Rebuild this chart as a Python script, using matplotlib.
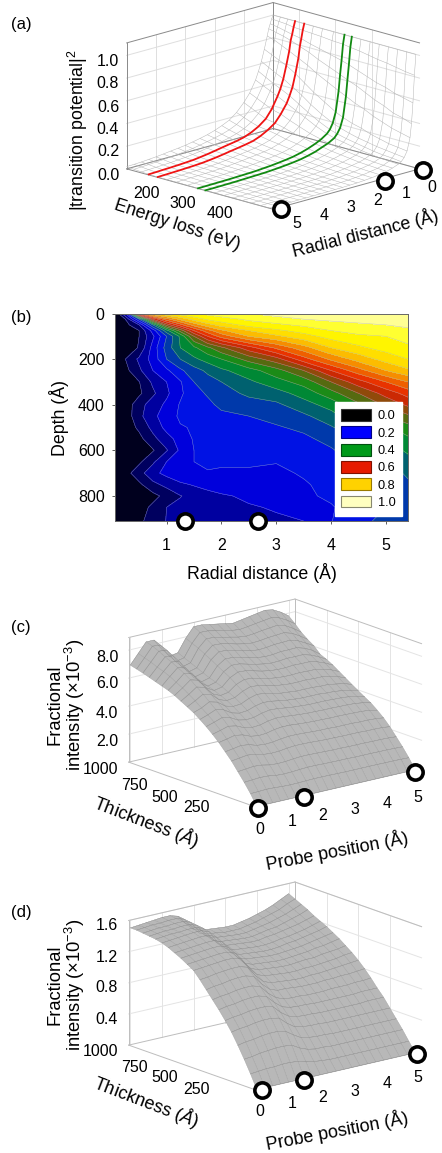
import numpy as np
import matplotlib
matplotlib.use('Agg')
import matplotlib.pyplot as plt
from matplotlib.colors import LinearSegmentedColormap
from matplotlib.patches import Patch

plt.rcParams['font.family'] = 'Liberation Sans'
plt.rcParams['mathtext.fontset'] = 'custom'
plt.rcParams['mathtext.rm'] = 'Liberation Sans'
plt.rcParams['mathtext.it'] = 'Liberation Sans:italic'
plt.rcParams['mathtext.bf'] = 'Liberation Sans:bold'

W, H = 442, 1153

## PANEL A: transition potential, one row per energy, one column per radius
a_radius = [0, .05, .1, .15, .2, .3, .4, .5, .6, .8, 1, 1.25, 1.5, 1.75, 2, 2.25, 2.5, 2.75, 3, 3.25, 3.5, 3.75, 4, 4.25, 4.5, 4.75, 5]
a_energy = [130, 150, 170, 190, 215, 240, 265, 295, 325, 345, 370, 395, 420, 445, 470, 495, 520]
a_values = [
    [1, .97, .93, .89, .83, .72, .62, .54, .47, .37, .30, .23, .18, .15, .125, .105, .09, .077, .065, .057, .05, .042, .035, .03, .025, .022, .02],
    [1, .965, .92, .875, .81, .69, .585, .505, .44, .34, .27, .205, .16, .13, .11, .094, .08, .067, .055, .047, .04, .034, .028, .024, .02, .017, .014],
    [1, .96, .905, .86, .78, .66, .55, .47, .41, .31, .24, .18, .14, .115, .095, .082, .07, .058, .047, .038, .03, .025, .02, .017, .014, .011, .009],
    [1, .95, .89, .84, .75, .63, .52, .44, .38, .28, .21, .16, .125, .1, .085, .074, .063, .051, .04, .031, .023, .019, .015, .012, .01, .007, .005],
    [1, .945, .875, .81, .71, .58, .47, .40, .34, .26, .195, .15, .115, .09, .077, .066, .056, .045, .035, .027, .02, .016, .013, .01, .008, .006, .004],
    [1, .94, .85, .78, .67, .52, .42, .35, .30, .225, .175, .135, .10, .08, .067, .057, .048, .039, .03, .023, .017, .014, .011, .009, .007, .005, .004],
    [1, .935, .83, .74, .62, .46, .36, .30, .26, .195, .15, .115, .09, .07, .057, .048, .04, .032, .025, .019, .014, .011, .009, .007, .006, .004, .003],
    [1, .925, .805, .70, .57, .40, .30, .245, .21, .16, .13, .10, .075, .06, .048, .04, .032, .026, .02, .016, .012, .009, .007, .006, .005, .003, .002],
    [1, .92, .78, .66, .52, .34, .25, .20, .17, .135, .11, .085, .065, .05, .04, .032, .025, .02, .015, .012, .01, .008, .006, .005, .004, .003, .002],
    [1, .91, .76, .63, .49, .31, .225, .18, .15, .12, .10, .075, .058, .044, .035, .028, .022, .017, .013, .011, .009, .007, .005, .004, .003, .002, .002],
    [1, .90, .73, .60, .45, .28, .20, .16, .135, .105, .085, .065, .05, .038, .03, .024, .018, .014, .011, .009, .008, .006, .005, .004, .003, .002, .002],
    [1, .885, .70, .56, .42, .26, .18, .145, .12, .09, .075, .058, .043, .033, .025, .02, .015, .012, .009, .007, .006, .005, .004, .003, .002, .002, .001],
    [1, .87, .67, .52, .38, .23, .165, .13, .105, .08, .065, .05, .037, .028, .02, .016, .012, .01, .008, .006, .005, .004, .003, .002, .002, .001, .001],
    [1, .86, .65, .49, .35, .21, .15, .115, .095, .07, .055, .043, .032, .024, .017, .013, .01, .008, .007, .005, .004, .003, .003, .002, .002, .001, .001],
    [1, .845, .62, .45, .32, .19, .14, .105, .085, .063, .05, .037, .027, .02, .014, .011, .008, .007, .006, .005, .004, .003, .002, .002, .001, .001, .001],
    [1, .83, .60, .43, .30, .18, .13, .10, .08, .058, .045, .033, .023, .017, .012, .009, .007, .006, .005, .004, .003, .002, .002, .002, .001, .001, .001],
    [1, .82, .58, .40, .28, .17, .12, .09, .075, .055, .04, .03, .02, .015, .01, .008, .006, .005, .004, .003, .003, .002, .002, .001, .001, .001, .001],
]
a_red_energies = [190, 215]
a_green_energies = [325, 345]
a_circles_r = [-.11, 1.18, 4.72]
a_xticks = [0, 1, 2, 3, 4, 5]
a_yticks = [200, 300, 400]
a_zticks = [0.0, 0.2, 0.4, 0.6, 0.8, 1.0]

## PANEL B: contour map
b_radius = [.06, .25, .5, .75, 1, 1.25, 1.5, 1.75, 2, 2.5, 3, 3.5, 4, 4.5, 5, 5.4]
b_depth = [0, 25, 50, 75, 100, 150, 200, 250, 300, 350, 400, 450, 500, 550, 600, 650, 700, 750, 800, 850, 910]
b_values = [
    [0, .15, .65, .80, .85, .88, .90, .915, .93, .95, .97, .98, .99, .995, 1, 1],
    [0, .05, .25, .55, .68, .76, .82, .86, .88, .91, .93, .95, .96, .97, .975, .98],
    [0, .03, .10, .30, .52, .63, .72, .78, .82, .87, .89, .91, .93, .94, .95, .96],
    [0, .02, .05, .17, .33, .47, .60, .68, .74, .80, .84, .87, .90, .92, .93, .94],
    [0, .015, .05, .14, .25, .36, .50, .60, .67, .75, .79, .83, .87, .89, .90, .92],
    [0, .012, .055, .17, .27, .35, .39, .44, .49, .58, .66, .73, .80, .84, .87, .89],
    [0, .05, .11, .17, .25, .30, .34, .37, .40, .47, .53, .63, .71, .77, .82, .85],
    [0, .035, .09, .15, .19, .24, .28, .31, .34, .38, .43, .50, .60, .68, .75, .79],
    [0, .015, .048, .11, .15, .195, .25, .28, .30, .34, .38, .42, .50, .58, .65, .70],
    [0, .01, .04, .09, .14, .19, .235, .255, .28, .31, .33, .37, .43, .50, .57, .62],
    [0, .02, .08, .125, .16, .205, .225, .24, .26, .28, .29, .33, .37, .44, .51, .56],
    [0, .02, .085, .14, .17, .21, .22, .23, .24, .25, .265, .29, .33, .39, .45, .49],
    [0, .02, .06, .115, .165, .195, .205, .21, .22, .235, .245, .26, .295, .34, .39, .43],
    [0, .01, .035, .085, .13, .17, .205, .21, .215, .22, .225, .24, .265, .30, .35, .39],
    [0, .005, .02, .045, .095, .16, .20, .205, .21, .215, .215, .22, .245, .28, .32, .36],
    [0, .01, .04, .09, .15, .18, .20, .205, .205, .205, .202, .215, .23, .26, .295, .33],
    [0, .03, .08, .135, .165, .19, .20, .198, .195, .195, .19, .205, .22, .24, .27, .31],
    [0, .01, .04, .085, .115, .14, .155, .17, .18, .185, .18, .195, .215, .23, .255, .29],
    [0, .005, .015, .035, .065, .098, .115, .13, .143, .16, .17, .19, .21, .22, .25, .27],
    [0, .01, .03, .06, .10, .11, .12, .125, .13, .145, .155, .17, .195, .23, .25, .265],
    [0, .01, .04, .07, .102, .108, .112, .118, .122, .132, .142, .15, .198, .24, .26, .27],
]
b_circles_r = [1.33, 2.67]
b_xticks = [1, 2, 3, 4, 5]
b_yticks = [0, 200, 400, 600, 800]
b_legend_values = ['0.0', '0.2', '0.4', '0.6', '0.8', '1.0']
b_legend_colors = ['#000000', '#0000ff', '#009a1a', '#e61a00', '#ffd200', '#ffffc0']
b_legend_edges = ['#333333', '#000088', '#005010', '#801000', '#997a00', '#888870']

## PANELS C AND D: one row per thickness, one column per probe position
surf_position = [0, .25, .5, .75, 1, 1.25, 1.5, 1.75, 2, 2.25, 2.5, 2.75, 3, 3.25, 3.5, 3.75, 4, 4.25, 4.5, 4.75, 5]
surf_thickness = [0, 50, 100, 150, 200, 250, 300, 350, 400, 450, 500, 550, 600, 650, 700, 750, 800, 850, 900, 950, 1000]
c_values = [
    [0] * 21,
    [.75, .77, .8, .78, .74, .72, .73, .75, .77, .77, .76, .75, .74, .74, .74, .74, .74, .73, .73, .72, .7],
    [1.4, 1.44, 1.48, 1.46, 1.37, 1.34, 1.36, 1.4, 1.43, 1.43, 1.41, 1.4, 1.39, 1.39, 1.37, 1.37, 1.37, 1.36, 1.36, 1.34, 1.32],
    [2.0, 2.06, 2.12, 2.08, 1.96, 1.92, 1.94, 2.0, 2.04, 2.04, 2.02, 2.0, 1.98, 1.98, 1.96, 1.96, 1.96, 1.94, 1.94, 1.92, 1.88],
    [2.6, 2.68, 2.76, 2.7, 2.55, 2.5, 2.52, 2.6, 2.65, 2.65, 2.63, 2.6, 2.57, 2.57, 2.55, 2.55, 2.55, 2.52, 2.52, 2.5, 2.44],
    [3.1, 3.19, 3.29, 3.22, 3.04, 2.98, 3.01, 3.1, 3.16, 3.16, 3.13, 3.1, 3.07, 3.07, 3.04, 3.04, 3.04, 3.01, 3.01, 2.98, 2.91],
    [3.6, 3.72, 3.85, 3.76, 3.53, 3.44, 3.48, 3.61, 3.68, 3.67, 3.62, 3.58, 3.55, 3.54, 3.52, 3.52, 3.51, 3.49, 3.47, 3.42, 3.3],
    [4.03, 4.18, 4.35, 4.24, 3.98, 3.87, 3.91, 4.06, 4.14, 4.12, 4.06, 4.01, 3.97, 3.96, 3.94, 3.94, 3.92, 3.91, 3.88, 3.8, 3.66],
    [4.42, 4.6, 4.8, 4.68, 4.37, 4.25, 4.29, 4.46, 4.56, 4.53, 4.45, 4.38, 4.34, 4.3, 4.3, 4.3, 4.27, 4.25, 4.2, 4.1, 3.93],
    [4.77, 4.97, 5.21, 5.07, 4.72, 4.57, 4.62, 4.82, 4.94, 4.9, 4.8, 4.71, 4.66, 4.62, 4.62, 4.62, 4.57, 4.55, 4.48, 4.38, 4.21],
    [5.1, 5.3, 5.61, 5.46, 5.05, 4.89, 4.94, 5.2, 5.36, 5.3, 5.15, 5.05, 5.0, 4.94, 4.94, 4.94, 4.89, 4.89, 4.79, 4.69, 4.5],
    [5.35, 5.65, 6.0, 5.85, 5.35, 5.15, 5.23, 5.55, 5.75, 5.7, 5.55, 5.42, 5.36, 5.3, 5.3, 5.32, 5.28, 5.28, 5.17, 5.03, 4.8],
    [5.6, 5.95, 6.35, 6.2, 5.6, 5.35, 5.45, 5.88, 6.1, 6.07, 5.92, 5.78, 5.7, 5.65, 5.65, 5.68, 5.65, 5.65, 5.52, 5.35, 5.1],
    [5.85, 6.25, 6.7, 6.55, 5.87, 5.55, 5.67, 6.2, 6.47, 6.44, 6.3, 6.15, 6.05, 6.0, 6.0, 6.05, 6.03, 6.03, 5.9, 5.68, 5.4],
    [6.05, 6.5, 7.0, 6.85, 6.1, 5.7, 5.85, 6.47, 6.8, 6.77, 6.62, 6.48, 6.37, 6.3, 6.32, 6.38, 6.37, 6.38, 6.22, 5.97, 5.65],
    [6.2, 6.75, 7.25, 7.1, 6.3, 5.85, 6.0, 6.72, 7.1, 7.07, 6.93, 6.78, 6.67, 6.6, 6.62, 6.7, 6.7, 6.72, 6.55, 6.27, 5.85],
    [6.35, 6.95, 7.5, 7.4, 6.55, 6.05, 6.2, 7.0, 7.45, 7.42, 7.28, 7.13, 7.0, 6.93, 6.97, 7.05, 7.07, 7.1, 6.92, 6.62, 6.3],
    [6.5, 7.1, 7.7, 7.65, 6.8, 6.25, 6.4, 7.25, 7.75, 7.72, 7.6, 7.45, 7.33, 7.26, 7.3, 7.38, 7.42, 7.47, 7.3, 6.98, 6.6],
    [6.65, 7.3, 7.95, 7.9, 7.0, 6.45, 6.6, 7.5, 8.05, 8.03, 7.9, 7.78, 7.65, 7.58, 7.63, 7.72, 7.78, 7.85, 7.68, 7.35, 6.95],
    [6.78, 7.45, 8.15, 8.1, 7.25, 6.67, 6.8, 7.7, 8.35, 8.33, 8.2, 8.1, 7.97, 7.9, 7.97, 8.06, 8.14, 8.22, 8.08, 7.78, 7.4],
    [6.9, 7.6, 8.3, 8.3, 7.5, 6.9, 7.0, 7.9, 8.6, 8.6, 8.5, 8.4, 8.3, 8.2, 8.3, 8.4, 8.5, 8.6, 8.5, 8.2, 7.8],
]
d_values = [
    [0] * 21,
    [.17, .18, .19, .19, .20, .20, .19, .16, .14, .13, .12, .12, .12, .12, .12, .12, .12, .12, .12, .12, .12],
    [.33, .34, .36, .37, .38, .38, .37, .31, .27, .25, .25, .24, .24, .24, .24, .24, .24, .24, .24, .24, .24],
    [.48, .50, .51, .53, .54, .54, .52, .45, .39, .37, .36, .36, .35, .35, .35, .35, .35, .35, .35, .35, .35],
    [.62, .64, .65, .67, .68, .68, .66, .57, .50, .48, .47, .47, .46, .46, .46, .46, .46, .46, .46, .46, .46],
    [.74, .76, .77, .79, .80, .80, .78, .68, .61, .58, .57, .57, .56, .56, .56, .56, .56, .56, .57, .57, .57],
    [.85, .87, .88, .90, .91, .91, .88, .78, .70, .67, .66, .66, .65, .65, .65, .65, .65, .65, .66, .66, .66],
    [.95, .97, .98, 1.0, 1.01, 1.01, .98, .87, .79, .75, .74, .74, .73, .73, .73, .74, .74, .74, .75, .75, .76],
    [1.05, 1.07, 1.08, 1.10, 1.11, 1.11, 1.08, .96, .87, .83, .83, .82, .81, .81, .81, .82, .82, .83, .83, .84, .85],
    [1.15, 1.16, 1.18, 1.19, 1.2, 1.2, 1.17, 1.04, .94, .90, .89, .88, .87, .87, .88, .88, .89, .90, .91, .92, .93],
    [1.24, 1.25, 1.26, 1.27, 1.28, 1.28, 1.25, 1.11, 1.0, .96, .95, .94, .93, .93, .94, .94, .95, .96, .97, .99, 1.0],
    [1.29, 1.30, 1.31, 1.32, 1.33, 1.33, 1.30, 1.16, 1.05, 1.01, 1.0, .99, .98, .98, .99, 1.0, 1.0, 1.02, 1.03, 1.04, 1.06],
    [1.34, 1.35, 1.36, 1.37, 1.38, 1.38, 1.34, 1.20, 1.09, 1.05, 1.04, 1.03, 1.02, 1.02, 1.03, 1.04, 1.05, 1.07, 1.08, 1.10, 1.12],
    [1.38, 1.39, 1.40, 1.41, 1.42, 1.42, 1.38, 1.24, 1.13, 1.09, 1.08, 1.07, 1.06, 1.06, 1.07, 1.08, 1.09, 1.11, 1.13, 1.15, 1.17],
    [1.42, 1.43, 1.44, 1.45, 1.46, 1.46, 1.42, 1.27, 1.16, 1.12, 1.11, 1.10, 1.09, 1.09, 1.10, 1.12, 1.13, 1.15, 1.17, 1.19, 1.22],
    [1.45, 1.46, 1.47, 1.48, 1.49, 1.49, 1.45, 1.30, 1.19, 1.15, 1.14, 1.13, 1.12, 1.12, 1.13, 1.15, 1.16, 1.18, 1.20, 1.23, 1.26],
    [1.47, 1.48, 1.49, 1.49, 1.5, 1.5, 1.47, 1.33, 1.22, 1.18, 1.17, 1.16, 1.15, 1.15, 1.17, 1.18, 1.20, 1.22, 1.24, 1.27, 1.30],
    [1.48, 1.49, 1.50, 1.50, 1.51, 1.51, 1.48, 1.34, 1.24, 1.20, 1.19, 1.18, 1.17, 1.17, 1.19, 1.21, 1.22, 1.25, 1.28, 1.31, 1.35],
    [1.49, 1.50, 1.51, 1.51, 1.52, 1.52, 1.49, 1.36, 1.26, 1.22, 1.21, 1.20, 1.19, 1.19, 1.21, 1.23, 1.25, 1.28, 1.31, 1.35, 1.39],
    [1.5, 1.51, 1.52, 1.52, 1.53, 1.53, 1.50, 1.37, 1.27, 1.24, 1.23, 1.21, 1.21, 1.21, 1.23, 1.25, 1.28, 1.31, 1.34, 1.39, 1.43],
    [1.50, 1.51, 1.52, 1.53, 1.54, 1.54, 1.51, 1.39, 1.29, 1.26, 1.25, 1.24, 1.23, 1.23, 1.25, 1.27, 1.30, 1.33, 1.37, 1.42, 1.47],
]
c_circles_p = [.03, 1.5, 5.0]
d_circles_p = [.15, 1.5, 5.05]
surf_xticks = [0, 1, 2, 3, 4, 5]
surf_yticks = [250, 500, 750, 1000]
c_zticks = [2.0, 4.0, 6.0, 8.0]
d_zticks = [0.4, 0.8, 1.2, 1.6]


def px_text(x, y, s, **kw):
    # place text by pixel position in the figure, y measured from the top
    kw.setdefault('ha', 'center')
    kw.setdefault('va', 'center')
    return fig.text(x / W, 1 - y / H, s, **kw)


def make_3d(cx, cy, box_px, elev, azim, size=600):
    # orthographic 3d axes, box centre at (cx, cy), box edge lengths in pixels
    ax = fig.add_axes([(cx - 8 - size / 2) / W, 1 - (cy + 5 + size / 2) / H, size / W, size / H],
                      projection='3d', computed_zorder=False)
    ax.set_proj_type('ortho')
    ax.view_init(elev=elev, azim=azim)
    norm = np.linalg.norm(box_px)
    ax.set_box_aspect(box_px, zoom=.935 * norm * 1.9 / (1.8294640721620434 * size))
    ax.set_axis_off()
    ax.patch.set_visible(False)
    return ax


def draw_box(ax, xl, yl, zl, xt, yt, zt, wall_x, wall_y, edge='#8a8a8a', grid='#dedede'):
    # two back walls with grid lines, and the outline of the box
    other_x = xl[0] if wall_x == xl[1] else xl[1]
    other_y = yl[0] if wall_y == yl[1] else yl[1]
    for v in xt:
        ax.plot([v, v], [wall_y, wall_y], zl, color=grid, lw=.7, zorder=1)
    for v in yt:
        ax.plot([wall_x, wall_x], [v, v], zl, color=grid, lw=.7, zorder=1)
    for v in zt:
        ax.plot(xl, [wall_y, wall_y], [v, v], color=grid, lw=.7, zorder=1)
        ax.plot([wall_x, wall_x], yl, [v, v], color=grid, lw=.7, zorder=1)
    ax.plot(xl, [wall_y, wall_y], [zl[1], zl[1]], color=edge, lw=.7, zorder=1)
    ax.plot(xl, [wall_y, wall_y], [zl[0], zl[0]], color=edge, lw=.7, zorder=1)
    ax.plot([wall_x, wall_x], yl, [zl[1], zl[1]], color=edge, lw=.7, zorder=1)
    ax.plot([wall_x, wall_x], yl, [zl[0], zl[0]], color=edge, lw=.7, zorder=1)
    ax.plot([wall_x, wall_x], [wall_y, wall_y], zl, color=edge, lw=.7, zorder=1)
    ax.plot([other_x, other_x], [wall_y, wall_y], zl, color=edge, lw=.7, zorder=1)
    ax.plot(xl, [other_y, other_y], [zl[0], zl[0]], color=edge, lw=.7, zorder=1)
    ax.plot([other_x, other_x], yl, [zl[0], zl[0]], color=edge, lw=.7, zorder=1)
    ax.set_xlim(xl)
    ax.set_ylim(yl)
    ax.set_zlim(zl)


def circles_3d(ax, xs, y, z):
    ax.plot(xs, [y] * len(xs), [z] * len(xs), ls='none', marker='o', ms=11, mfc='white',
            mec='black', mew=2.6, zorder=10, clip_on=False)


fig = plt.figure(figsize=(W / 100, H / 100), dpi=100)
label_fs = 12.8
tick_fs = 11.5

for s, y in zip(['(a)', '(b)', '(c)', '(d)'], [25, 317, 628, 913]):
    px_text(11, y, s, ha='left', fontsize=12)

## (a)
ax = make_3d(273, 109, [207, 207, 131], 16, 45)
draw_box(ax, [0, 5.0], [130, 530], [0, 1.11], a_xticks, a_yticks, a_zticks, 0, 130)
R, E = np.meshgrid(a_radius, a_energy)
Z = np.array(a_values)
ax.plot_wireframe(R, E, Z, color='#b4b4b4', lw=.35, rstride=1, cstride=1, zorder=2)
for en_list, col in zip([a_red_energies, a_green_energies], ['#f01414', '#128a12']):
    for en in en_list:
        row = a_energy.index(en)
        ax.plot(a_radius, [en] * len(a_radius), Z[row], color=col, lw=1.3, zorder=4)
circles_3d(ax, a_circles_r, 530, -.02)

for v, (x, y) in zip(a_zticks, [(108, 175), (108, 152), (108, 130), (108, 107), (108, 83), (108, 62)]):
    px_text(x, y, f'{v:.1f}', fontsize=tick_fs)
for v, (x, y) in zip(a_yticks, [(146, 193), (183, 203), (220, 213)]):
    px_text(x, y, str(v), fontsize=tick_fs)
for v, (x, y) in zip(a_xticks, [(432, 187), (406, 193), (378, 200), (351, 207), (324, 216), (297, 224)]):
    px_text(x, y, str(v), fontsize=tick_fs)
px_text(78, 130, r'$|$transition potential$|^2$', fontsize=label_fs, rotation=90)
px_text(177, 225, 'Energy loss (eV)', fontsize=label_fs, rotation=-18)
px_text(365, 233, 'Radial distance (Å)', fontsize=label_fs, rotation=14)

## (b)
ax = fig.add_axes([115 / W, 1 - 521 / H, 293 / W, 207.5 / H])
cmap = LinearSegmentedColormap.from_list('potential', [
    (0.0, '#000000'), (0.2, '#0000ff'), (0.4, '#009a1a'), (0.6, '#e61a00'),
    (0.8, '#ffd200'), (0.9, '#ffff00'), (1.0, '#ffffc0')])
levels = np.arange(0, 1.0001, .05)
ax.contourf(b_radius, b_depth, b_values, levels=levels, cmap=cmap, vmin=0, vmax=1)
ax.contour(b_radius, b_depth, b_values, levels=levels[1:-1], colors='#b0b0c8', linewidths=.35, alpha=.7)
ax.set_xlim(.06, 5.4)
ax.set_ylim(910, 0)
ax.set_xticks(b_xticks)
ax.set_yticks(b_yticks)
ax.tick_params(axis='x', length=2.5, width=.6, color='#444444', pad=10, labelsize=tick_fs)
ax.tick_params(axis='y', length=2.5, width=.6, color='#444444', pad=5, labelsize=tick_fs)
for sp in ax.spines.values():
    sp.set_linewidth(.7)
    sp.set_color('#666666')
ax.plot(b_circles_r, [910] * len(b_circles_r), ls='none', marker='o', ms=11, mfc='white',
        mec='black', mew=2.6, clip_on=False, zorder=10)
handles = [Patch(facecolor=c, edgecolor=e, lw=.8) for c, e in zip(b_legend_colors, b_legend_edges)]
ax.legend(handles, b_legend_values, loc='lower right', bbox_to_anchor=(.981, .026), borderaxespad=0,
          fancybox=False, framealpha=1, edgecolor='white', fontsize=9.2, handlelength=2.3,
          handleheight=1.06, labelspacing=.31, handletextpad=.56, borderpad=.53)
px_text(262, 573, 'Radial distance (Å)', fontsize=label_fs)
px_text(59, 418, 'Depth (Å)', fontsize=label_fs, rotation=90)

## (c) and (d)
P, T = np.meshgrid(surf_position, surf_thickness)
panels = [
    (706, 600, c_values, (0, 8.9), c_zticks, c_circles_p, -.14,
     [(107, 742), (107, 713), (107, 683), (107, 657)],
     [(260, 829), (292, 822), (323, 816), (355, 809), (387, 803), (418, 797)],
     [(197, 808), (165, 797), (134, 785), (101, 770)]),
    (989, 880, d_values, (0, 1.6), d_zticks, d_circles_p, -.02,
     [(107, 1020), (107, 988), (107, 957), (107, 925)],
     [(260, 1112), (292, 1103), (323, 1097), (355, 1091), (387, 1083), (418, 1077)],
     [(197, 1090), (165, 1078), (134, 1067), (101, 1052)]),
]
for cy, top, vals, zl, zt, circ, cz, zpos, xpos, ypos in panels:
    ax = make_3d(275, cy, [214, 201, 130], 16.6, -129)
    draw_box(ax, [-.05, 5.2], [0, 1000], zl, surf_xticks, surf_yticks, zt, 5.2, 1000,
             edge='#bdbdbd', grid='#e4e4e4')
    ax.plot_surface(P, T, np.array(vals), color='#b8b8b8', edgecolor='#969696', lw=.22,
                    rstride=1, cstride=1, shade=False, zorder=3)
    ax.plot_wireframe(P, T, np.array(vals), color='#8a8a8a', lw=.22, rstride=1, cstride=0, zorder=4)
    circles_3d(ax, circ, 0, cz)
    for v, (x, y) in zip(zt, zpos):
        px_text(x, y, f'{v:.1f}', fontsize=tick_fs)
    for v, (x, y) in zip(surf_xticks, xpos):
        px_text(x, y, str(v), fontsize=tick_fs)
    for v, (x, y) in zip(surf_yticks, ypos):
        px_text(x, y, str(v), fontsize=tick_fs)
    px_text(55, top + 105, 'Fractional', fontsize=13.2, rotation=90)
    px_text(75, top + 105, r'intensity ($\times$10$^{-3}$)', fontsize=13.2, rotation=90)
    px_text(146, top + 222, r'Thickness ($\mathit{Å}$)', fontsize=13, rotation=-21)
    px_text(337, top + 251, 'Probe position (Å)', fontsize=13, rotation=10.7)

fig.savefig('out.png', dpi=100, facecolor='white')
print('Ended.')
